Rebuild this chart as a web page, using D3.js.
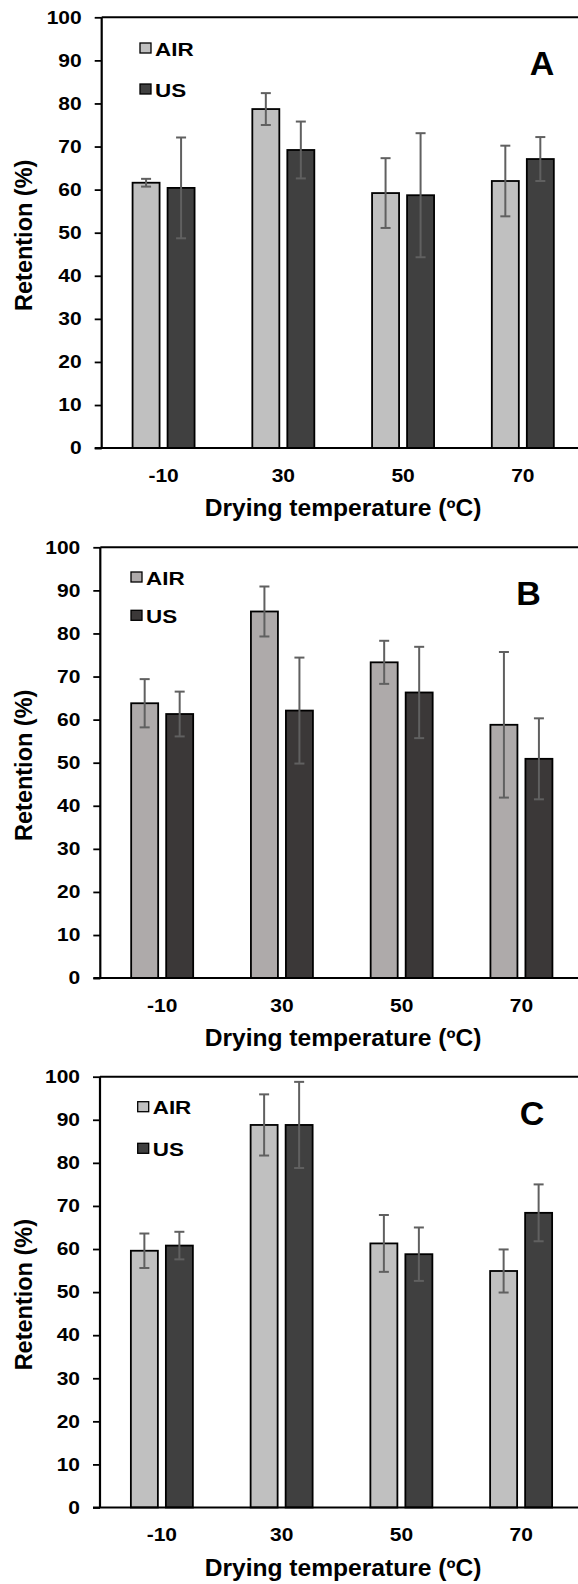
<!DOCTYPE html>
<html>
<head>
<meta charset="utf-8">
<script src="https://cdn.jsdelivr.net/npm/d3@7"></script>
<style>
  body { margin: 0; background: #fff; }
  svg { display: block; }
  text { font-family: "Liberation Sans", Arial, sans-serif; font-weight: bold; fill: #000; }
</style>
</head>
<body>
<svg id="chart" width="578" height="1584"></svg>
<script>
const categories = ['-10', '30', '50', '70'];
const yTicks = [0, 10, 20, 30, 40, 50, 60, 70, 80, 90, 100];
const seriesNames = ['AIR', 'US'];

// panel A
const airA = [61.6, 78.7, 59.2, 62.0];
const airAErr = [0.9, 3.7, 8.1, 8.2];
const usA = [60.4, 69.2, 58.7, 67.1];
const usAErr = [11.7, 6.6, 14.4, 5.1];
// panel B
const airB = [63.8, 85.1, 73.3, 58.8];
const airBErr = [5.6, 5.8, 5.0, 16.9];
const usB = [61.3, 62.1, 66.3, 50.9];
const usBErr = [5.2, 12.3, 10.6, 9.4];
// panel C
const airC = [59.6, 88.8, 61.3, 54.9];
const airCErr = [4.0, 7.1, 6.6, 5.0];
const usC = [60.8, 88.8, 58.8, 68.4];
const usCErr = [3.2, 10.0, 6.2, 6.6];

const panels = [
  { label: 'A', top: 17.3, axisX: 101.7, air: airA, airErr: airAErr, us: usA, usErr: usAErr,
    colors: ['#c0c0c0', '#404040'], labelX: 542, labelDy: 57.7, legX: 140, legDy: [25.7, 66.7] },
  { label: 'B', top: 547.3, axisX: 100.3, air: airB, airErr: airBErr, us: usB, usErr: usBErr,
    colors: ['#aeaaaa', '#3b3838'], labelX: 528.5, labelDy: 57.7, legX: 131, legDy: [24.7, 63] },
  { label: 'C', top: 1076.7, axisX: 100, air: airC, airErr: airCErr, us: usC, usErr: usCErr,
    colors: ['#c0c0c0', '#404040'], labelX: 532, labelDy: 48.3, legX: 137.7, legDy: [25, 66.6] }
];

const svg = d3.select('#chart');
const plotH = 430.8;
const barW = 27;
const barGap = 4;

// text stretched horizontally, like the original figure
function sText(g, x, y, str, size, sx, anchor) {
  return g.append('text')
    .attr('transform', `translate(${x},${y}) scale(${sx},1)`)
    .attr('text-anchor', anchor)
    .style('font-size', size + 'px')
    .text(str);
}

panels.forEach(p => {
  const g = svg.append('g');
  const zeroY = p.top + plotH;

  const x = d3.scaleBand()
    .domain(categories)
    .range([p.axisX + 2, p.axisX + 2 + 479])
    .paddingInner(0);

  const y = d3.scaleLinear()
    .domain([0, 100])
    .range([zeroY, p.top]);

  // top border of plot
  g.append('line')
    .attr('x1', p.axisX).attr('x2', 578)
    .attr('y1', p.top).attr('y2', p.top)
    .attr('stroke', '#000').attr('stroke-width', 2);

  // y axis
  const yAxis = g.append('g')
    .attr('transform', `translate(${p.axisX},0)`)
    .call(d3.axisLeft(y).tickValues(yTicks).tickSize(7).tickFormat(''));
  yAxis.select('.domain').attr('stroke', '#000').attr('stroke-width', 2.2)
    .attr('d', `M0,${p.top}V${zeroY}`);
  yAxis.selectAll('.tick line').attr('stroke', '#000').attr('stroke-width', 1.8);

  yTicks.forEach(t => {
    sText(g, p.axisX - 20, y(t) + 6.3, t, 17.5, 1.2, 'end');
  });

  // bars
  const series = [
    { name: seriesNames[0], vals: p.air, errs: p.airErr, color: p.colors[0], off: -barGap - barW },
    { name: seriesNames[1], vals: p.us, errs: p.usErr, color: p.colors[1], off: barGap }
  ];

  series.forEach(s => {
    const bars = g.append('g');
    bars.selectAll('rect')
      .data(categories)
      .join('rect')
      .attr('x', (c) => x(c) + x.bandwidth() / 2 + s.off)
      .attr('y', (c, i) => y(s.vals[i]))
      .attr('width', barW)
      .attr('height', (c, i) => zeroY - y(s.vals[i]))
      .attr('fill', s.color)
      .attr('stroke', '#000')
      .attr('stroke-width', 1.8);
  });

  // error bars
  series.forEach(s => {
    const eb = g.append('g').attr('stroke', '#606060').attr('stroke-width', 2);
    categories.forEach((c, i) => {
      const cx = x(c) + x.bandwidth() / 2 + s.off + barW / 2;
      const hi = y(s.vals[i] + s.errs[i]);
      const lo = y(s.vals[i] - s.errs[i]);
      eb.append('line').attr('x1', cx).attr('x2', cx).attr('y1', hi).attr('y2', lo);
      eb.append('line').attr('x1', cx - 5).attr('x2', cx + 5).attr('y1', hi).attr('y2', hi);
      eb.append('line').attr('x1', cx - 5).attr('x2', cx + 5).attr('y1', lo).attr('y2', lo);
    });
  });

  // x axis line
  g.append('line')
    .attr('x1', p.axisX - 7).attr('x2', 578)
    .attr('y1', zeroY).attr('y2', zeroY)
    .attr('stroke', '#000').attr('stroke-width', 2);

  categories.forEach(c => {
    sText(g, x(c) + x.bandwidth() / 2, zeroY + 33.5, c, 17.5, 1.2, 'middle');
  });

  // axis titles
  sText(g, 343, zeroY + 68, 'Drying temperature (ºC)', 23, 1.07, 'middle');
  g.append('text')
    .attr('transform', `translate(${32},${p.top + 218}) scale(1.05,1) rotate(-90)`)
    .attr('text-anchor', 'middle')
    .style('font-size', '23.5px')
    .text('Retention (%)');

  // panel letter
  g.append('text')
    .attr('x', p.labelX).attr('y', p.top + p.labelDy)
    .attr('text-anchor', 'middle')
    .style('font-size', '34px')
    .text(p.label);

  // legend
  series.forEach((s, i) => {
    const ly = p.top + p.legDy[i];
    g.append('rect')
      .attr('x', p.legX).attr('y', ly)
      .attr('width', 11).attr('height', 10)
      .attr('fill', s.color)
      .attr('stroke', '#000').attr('stroke-width', 1.3);
    sText(g, p.legX + 15, ly + 12.5, s.name, 19, 1.18, 'start');
  });
});
</script>
</body>
</html>
